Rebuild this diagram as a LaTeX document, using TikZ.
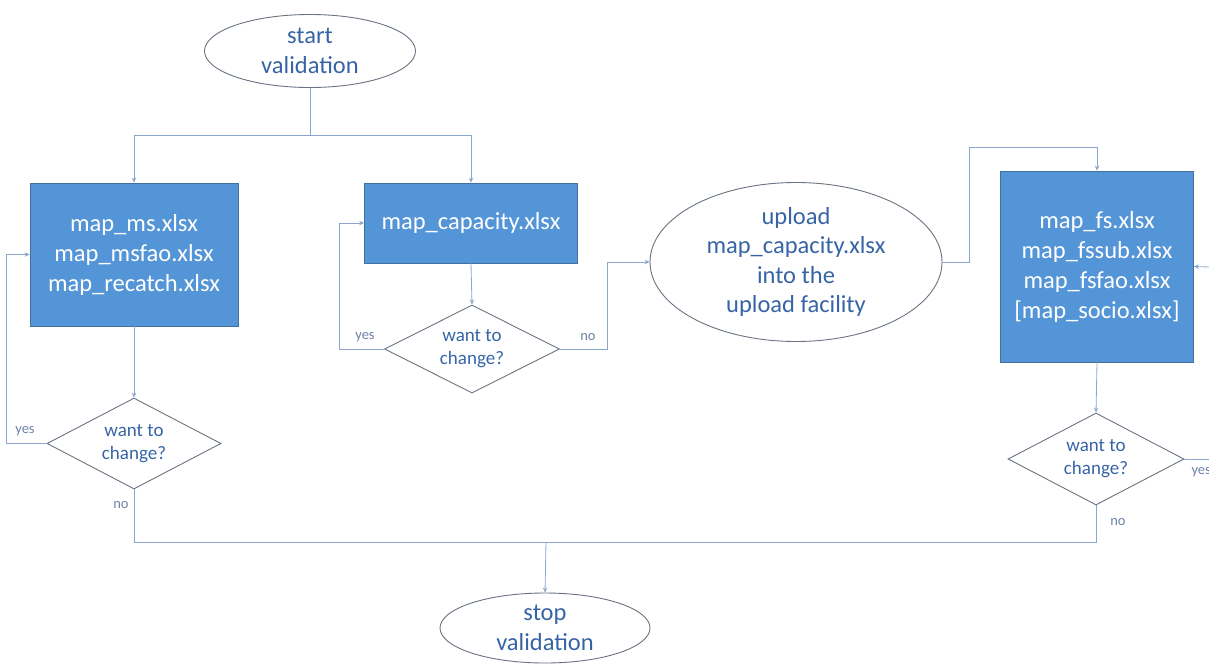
\documentclass[tikz,border=0pt]{standalone}
\usepackage{fontspec}
\setmainfont{Carlito}
\usetikzlibrary{shapes.geometric,arrows.meta}
\definecolor{boxfill}{RGB}{84,149,215}
\definecolor{boxline}{RGB}{65,113,156}
\definecolor{conn}{RGB}{140,165,205}
\definecolor{outl}{RGB}{105,115,130}
\definecolor{txtblue}{RGB}{55,100,165}
\definecolor{lbl}{RGB}{110,130,165}
\tikzset{
  boxnode/.style={rectangle,fill=boxfill,draw=boxline,line width=0.8pt,text=white,align=center,font=\fontsize{24.5}{30}\selectfont,inner sep=0pt},
  ovalnode/.style={ellipse,draw=outl,line width=0.9pt,text=txtblue,align=center,font=\fontsize{24.5}{29.5}\selectfont,inner sep=0pt},
  decnode/.style={diamond,shape aspect=2,draw=outl,line width=0.9pt,text=txtblue,align=center,font=\fontsize{19}{23}\selectfont,inner sep=0pt},
  conline/.style={draw=conn,line width=0.8pt},
  arr/.style={conline,-{Stealth[length=5pt,width=4.5pt]}},
  lab/.style={text=lbl,font=\fontsize{14.5}{16}\selectfont,inner sep=0pt}
}
\begin{document}
\begin{tikzpicture}[x=1pt,y=-1pt]
\useasboundingbox (0,0) rectangle (1209,664);
% nodes
\node[ovalnode,minimum width=211pt,minimum height=73pt] (s) at (310,51) {start\\validation};
\node[boxnode,minimum width=208pt,minimum height=143pt] (b1) at (134,254.5) {map\_ms.xlsx\\map\_msfao.xlsx\\map\_recatch.xlsx};
\node[boxnode,minimum width=213pt,minimum height=80pt] (b2) at (471,223) {map\_capacity.xlsx};
\node[decnode,minimum width=174pt,minimum height=91pt] (d1) at (134,443.5) {want to\\change?};
\node[decnode,minimum width=175pt,minimum height=88pt] (d2) at (472,349) {want to\\change?};
\node[ovalnode,minimum width=292pt,minimum height=159pt] (up) at (796,262) {upload\\map\_capacity.xlsx\\into the\\upload facility};
\node[boxnode,minimum width=193pt,minimum height=191pt] (b3) at (1097,266.5) {map\_fs.xlsx\\map\_fssub.xlsx\\map\_fsfao.xlsx\\{[}map\_socio.xlsx{]}};
\node[decnode,minimum width=176pt,minimum height=92pt] (d3) at (1096,459) {want to\\change?};
\node[ovalnode,minimum width=210pt,minimum height=70pt] (e) at (545,628) {stop\\validation};
% helper coordinates
\coordinate (j1) at (310,135);
\coordinate (l1) at (6,0);
\coordinate (l2) at (339,0);
\coordinate (l3) at (607,0);
\coordinate (l4) at (969,147);
\coordinate (r1) at (1209,459);
\coordinate (r2) at (1209,267);
\coordinate (j2) at (546,542);
% connectors
\draw[conline] (s.south) -- (j1);
\draw[arr] (j1) -| (b1.north);
\draw[arr] (j1) -| (b2.north);
\draw[arr] (b1.south) -- (d1.north);
\draw[arr] (d1.west) -- (d1.west -| l1) |- (b1.west);
\draw[arr] (b2.south) -- (d2.north);
\draw[arr] (d2.west) -- (d2.west -| l2) |- (b2.west);
\draw[arr] (d2.east) -- (d2.east -| l3) |- (up.west);
\draw[arr] (up.east) -| (l4) -| (b3.north);
\draw[arr] (b3.south) -- (d3.north);
\draw[conline] (d3.east) -- (r1);
\draw[arr] (r2) -- (b3.east);
\draw[conline] (d1.south) |- (j2);
\draw[conline] (d3.south) |- (j2);
\draw[arr] (j2) -- (e.north);
% labels
\node[lab] (y1) at (25,431) {yes};
\node[lab] (n1) at (121,505) {no};
\node[lab] (y2) at (365,337) {yes};
\node[lab] (n2) at (588,337) {no};
\node[lab] (n3) at (1118,522) {no};
\node[lab,anchor=east] (y3) at (1211,472) {yes};
\end{tikzpicture}
\end{document}
